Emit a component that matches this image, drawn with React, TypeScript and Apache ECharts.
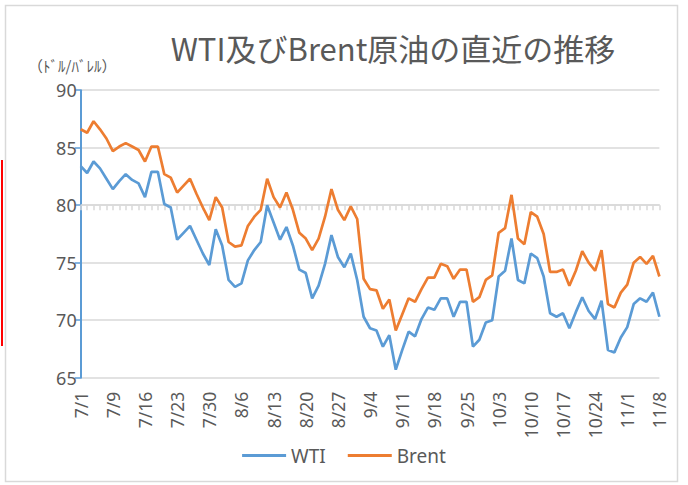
import React, { useEffect, useRef } from "react";
import * as echarts from "echarts";

const dates = [
  "7/1", "7/2", "7/3", "7/5", "7/8", "7/9", "7/10", "7/11", "7/12", "7/15",
  "7/16", "7/17", "7/18", "7/19", "7/22", "7/23", "7/24", "7/25", "7/26", "7/29",
  "7/30", "7/31", "8/1", "8/2", "8/5", "8/6", "8/7", "8/8", "8/9", "8/12",
  "8/13", "8/14", "8/15", "8/16", "8/19", "8/20", "8/21", "8/22", "8/23", "8/26",
  "8/27", "8/28", "8/29", "8/30", "9/3", "9/4", "9/5", "9/6", "9/9", "9/10",
  "9/11", "9/12", "9/13", "9/16", "9/17", "9/18", "9/19", "9/20", "9/23", "9/24",
  "9/25", "9/26", "9/27", "10/1", "10/2", "10/3", "10/4", "10/7", "10/8", "10/9",
  "10/10", "10/11", "10/14", "10/15", "10/16", "10/17", "10/18", "10/21", "10/22", "10/23",
  "10/24", "10/25", "10/28", "10/29", "10/30", "11/1", "11/4", "11/5", "11/6", "11/7",
  "11/8",
];

const wti = [
  83.4, 82.8, 83.8, 83.2, 82.3, 81.4, 82.1, 82.7, 82.2, 81.9,
  80.7, 82.9, 82.9, 80.1, 79.8, 77.0, 77.6, 78.2, 77.0, 75.8,
  74.8, 77.9, 76.5, 73.5, 72.9, 73.2, 75.2, 76.1, 76.8, 80.0,
  78.5, 77.0, 78.1, 76.5, 74.4, 74.1, 71.9, 73.0, 74.9, 77.4,
  75.5, 74.6, 75.8, 73.5, 70.3, 69.3, 69.1, 67.7, 68.7, 65.7,
  67.4, 69.0, 68.6, 70.1, 71.1, 70.9, 71.9, 71.9, 70.3, 71.6,
  71.6, 67.7, 68.3, 69.8, 70.0, 73.8, 74.3, 77.1, 73.5, 73.2,
  75.8, 75.4, 73.8, 70.6, 70.3, 70.6, 69.3, 70.7, 72.0, 70.8,
  70.1, 71.7, 67.4, 67.2, 68.5, 69.4, 71.4, 71.9, 71.6, 72.4,
  70.3,
];

const brent = [
  86.6, 86.3, 87.3, 86.6, 85.8, 84.7, 85.1, 85.4, 85.1, 84.8,
  83.8, 85.1, 85.1, 82.7, 82.4, 81.1, 81.7, 82.3, 81.0, 79.8,
  78.7, 80.7, 79.8, 76.8, 76.4, 76.5, 78.2, 79.0, 79.6, 82.3,
  80.7, 79.8, 81.1, 79.6, 77.6, 77.1, 76.1, 77.1, 79.0, 81.4,
  79.6, 78.7, 79.9, 78.8, 73.6, 72.7, 72.6, 71.0, 71.8, 69.1,
  70.5, 71.9, 71.6, 72.7, 73.7, 73.7, 74.9, 74.7, 73.6, 74.4,
  74.4, 71.6, 72.0, 73.5, 73.9, 77.6, 78.0, 80.9, 77.1, 76.6,
  79.4, 79.0, 77.5, 74.2, 74.2, 74.4, 73.0, 74.3, 76.0, 75.0,
  74.3, 76.1, 71.4, 71.1, 72.4, 73.1, 75.0, 75.5, 74.9, 75.6,
  73.8,
];

const seriesNames = ["WTI", "Brent"];
const titleText = "WTI及びBrent原油の直近の推移";
const unitText = "（ﾄﾞﾙ/ﾊﾞﾚﾙ）";
const yMin = 65;
const yMax = 90;
const yStep = 5;
const crossValue = 80;

const W = 688;
const H = 485;
const gridLeft = 80.7;
const gridRight = 28.6;
const gridTop = 90.2;
const gridBottom = 107.3;

export default function App() {
  const ref = useRef<HTMLDivElement>(null);
  useEffect(() => {
    if (!ref.current) return;
    const chart = echarts.init(ref.current, undefined, { renderer: "svg" });
    const plotH = H - gridTop - gridBottom;
    const crossOffset = -((crossValue - yMin) / (yMax - yMin)) * plotH;
    const gray = "#595959";
    const num = "'Noto Sans', 'DejaVu Sans', sans-serif";
    const cjk = "'Noto Sans CJK JP', sans-serif";
    chart.setOption({
      animation: false,
      backgroundColor: "#ffffff",
      title: {
        text: titleText,
        left: 388,
        top: 27,
        textAlign: "center",
        textStyle: { fontFamily: cjk, fontSize: 31, fontWeight: "normal", color: gray },
      },
      legend: {
        data: seriesNames,
        bottom: 15,
        left: "center",
        itemWidth: 44,
        itemHeight: 3,
        itemGap: 22,
        icon: "rect",
        textStyle: { fontFamily: num, fontSize: 19, color: gray },
      },
      graphic: [
        {
          type: "rect",
          shape: { x: 5.5, y: 5.5, width: 672, height: 476 },
          style: { fill: "none", stroke: "#D9D9D9", lineWidth: 1.5 },
          silent: true,
        },
        {
          type: "rect",
          shape: { x: 1, y: 160, width: 2, height: 186 },
          style: { fill: "#FF0000" },
          silent: true,
        },
        {
          type: "text",
          left: 28,
          top: 58,
          style: { text: unitText, font: `15px ${cjk}`, fill: gray },
          silent: true,
        },
      ],
      grid: { left: gridLeft, right: gridRight, top: gridTop, bottom: gridBottom },
      xAxis: [
        {
          type: "category",
          data: dates,
          boundaryGap: false,
          position: "bottom",
          axisLine: { show: false },
          axisTick: { show: false },
          axisLabel: {
            interval: (i: number) => i % 5 === 0,
            rotate: 90,
            margin: 14,
            fontFamily: num,
            fontSize: 17.5,
            color: gray,
          },
          splitLine: { show: false },
        },
        {
          type: "category",
          data: dates,
          boundaryGap: false,
          position: "bottom",
          offset: crossOffset,
          axisLine: { show: true, lineStyle: { color: "#D9D9D9", width: 1.5 } },
          axisTick: { show: true, interval: 0, length: 5, lineStyle: { color: "#D9D9D9", width: 1.5 } },
          axisLabel: { show: false },
          splitLine: { show: false },
        },
      ],
      yAxis: {
        type: "value",
        min: yMin,
        max: yMax,
        interval: yStep,
        axisLine: { show: true, lineStyle: { color: "#5B9BD5", width: 2 } },
        axisTick: { show: true, length: 6, lineStyle: { color: "#5B9BD5", width: 1.5 } },
        axisLabel: { margin: 4, fontFamily: num, fontSize: 18, color: gray },
        splitLine: { show: true, lineStyle: { color: "#D9D9D9", width: 1.5 } },
      },
      series: [
        {
          name: seriesNames[0],
          type: "line",
          data: wti,
          xAxisIndex: 0,
          symbol: "none",
          lineStyle: { color: "#5B9BD5", width: 2.7 },
          itemStyle: { color: "#5B9BD5" },
        },
        {
          name: seriesNames[1],
          type: "line",
          data: brent,
          xAxisIndex: 0,
          symbol: "none",
          lineStyle: { color: "#ED7D31", width: 2.7 },
          itemStyle: { color: "#ED7D31" },
        },
      ],
    });
    return () => chart.dispose();
  }, []);
  return (
    <div
      ref={ref}
      style={{ position: "fixed", left: 0, top: 0, width: W, height: H, background: "#fff" }}
    />
  );
}
